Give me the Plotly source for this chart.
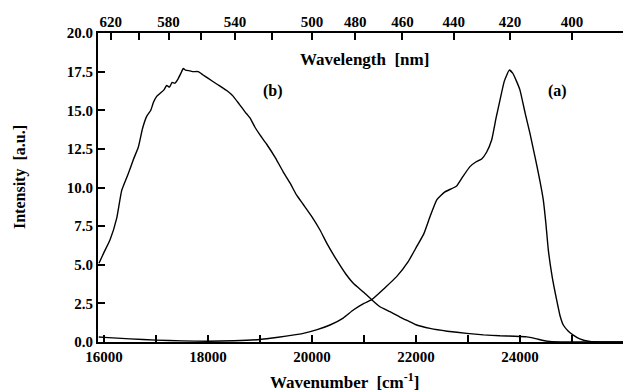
import plotly.graph_objects as go

# Curve (a)
wn_a = [15900, 16000, 16500, 17000, 17500, 18000, 18500, 19000, 19200, 19500, 19833, 20100,
        20346, 20600, 20794, 21000, 21148, 21400, 21628, 21850, 22013, 22150, 22269, 22400,
        22550, 22782, 22900, 23038, 23150, 23263, 23360, 23455, 23540, 23615, 23700, 23794,
        23860, 23930, 24000, 24100, 24192, 24300, 24385, 24448, 24500, 24545, 24620, 24705,
        24770, 24833, 24930, 25025, 25150, 25346, 25600, 26000]
int_a = [0.32, 0.30, 0.20, 0.12, 0.07, 0.05, 0.08, 0.16, 0.24, 0.38, 0.56, 0.80,
         1.10, 1.55, 2.07, 2.50, 2.74, 3.50, 4.23, 5.20, 6.17, 7.00, 8.11, 9.20,
         9.70, 10.10, 10.70, 11.35, 11.65, 11.85, 12.30, 13.07, 14.50, 15.66, 16.90, 17.60,
         17.40, 16.90, 16.30, 14.80, 13.50, 11.80, 10.40, 9.20, 7.60, 5.95, 4.20, 2.72,
         1.70, 1.10, 0.70, 0.45, 0.20, 0.03, 0.0, 0.0]

# Curve (b)
wn_b = [15904, 16000, 16115, 16244, 16340, 16468, 16564, 16660, 16740, 16821, 16900, 16950,
        17013, 17080, 17150, 17206, 17260, 17310, 17365, 17420, 17480, 17525, 17570, 17650,
        17720, 17813, 17900, 18006, 18167, 18391, 18487, 18600, 18712, 18808, 18904, 19000,
        19129, 19300, 19448, 19577, 19705, 19833, 20000, 20154, 20300, 20474, 20650, 20794,
        21000, 21148, 21300, 21500, 21700, 21885, 22013, 22269, 22600, 22975, 23300, 23615,
        23900, 24128, 24300, 24450, 24577, 24800, 26000]
int_b = [5.1, 5.8, 6.6, 8.0, 9.8, 10.9, 11.8, 12.6, 13.8, 14.6, 15.0, 15.5,
         15.9, 16.1, 16.3, 16.6, 16.5, 16.8, 16.75, 17.0, 17.4, 17.7, 17.6, 17.55,
         17.5, 17.5, 17.3, 17.06, 16.7, 16.2, 15.9, 15.4, 14.9, 14.5, 13.9, 13.4,
         12.8, 11.9, 11.0, 10.3, 9.5, 8.9, 8.1, 7.25, 6.3, 5.31, 4.4, 3.8,
         3.2, 2.74, 2.3, 1.96, 1.6, 1.31, 1.1, 0.88, 0.7, 0.56, 0.46, 0.40,
         0.37, 0.33, 0.22, 0.10, 0.03, 0.0, 0.0]

x_range = [15885, 25981]
y_range = [0, 20]

bottom_major = [16000, 18000, 20000, 22000, 24000]
bottom_minor = [17000, 19000, 21000, 23000, 25000]

top_major_nm = [620, 580, 540, 500, 480, 460, 440, 420, 400]
top_minor_nm = [600, 560, 520]

y_ticks = [0, 2.5, 5, 7.5, 10, 12.5, 15, 17.5, 20]

FONT = "Liberation Serif, Times New Roman, serif"
line = dict(color="black", width=1.4, shape="spline", smoothing=0.4)

fig = go.Figure()
fig.add_trace(go.Scatter(x=wn_a, y=int_a, mode="lines", line=line, showlegend=False))
fig.add_trace(go.Scatter(x=wn_b, y=int_b, mode="lines", line=line, showlegend=False))
fig.add_trace(go.Scatter(x=[1e7 / v for v in top_major_nm], y=[None] * len(top_major_nm),
                         xaxis="x2", mode="lines", showlegend=False, hoverinfo="skip"))

tickfont = dict(family=FONT, size=15, color="black", weight="bold")
minor_style = dict(ticks="inside", ticklen=7, tickwidth=1.5, tickcolor="black")
title_font = dict(family=FONT, size=17, color="black", weight="bold")

fig.update_layout(
    width=623, height=391,
    margin=dict(l=98, r=0, t=33, b=49),
    paper_bgcolor="white", plot_bgcolor="white",
    xaxis=dict(range=x_range, tickvals=bottom_major,
               ticktext=[str(v) for v in bottom_major], automargin=False,
               minor=dict(tickvals=bottom_minor, **minor_style),
               ticks="inside", ticklen=7, tickwidth=1.5, tickcolor="black",
               showline=True, linecolor="black", linewidth=2, showgrid=False, zeroline=False,
               tickfont=tickfont),
    xaxis2=dict(range=x_range, overlaying="x", side="top", anchor="y", automargin=False,
                tickvals=[1e7 / v for v in top_major_nm],
                ticktext=[str(v) for v in top_major_nm],
                minor=dict(tickvals=[1e7 / v for v in top_minor_nm], **minor_style),
                ticks="inside", ticklen=7, tickwidth=1.5, tickcolor="black",
                showline=True, linecolor="black", linewidth=2, showgrid=False, zeroline=False,
                tickfont=tickfont, ticklabelstandoff=-2),
    yaxis=dict(range=y_range, tickvals=y_ticks, tickformat=".1f", automargin=False,
               ticks="inside", ticklen=7, tickwidth=1.5, tickcolor="black",
               showline=True, linecolor="black", linewidth=2, showgrid=False, zeroline=False,
               tickfont=tickfont),
    annotations=[
        dict(text="Wavelength  [nm]", x=364, y=60, font=title_font),
        dict(text="Wavenumber  [cm<sup>-1</sup>]", x=344, y=381, font=title_font),
        dict(text="Intensity  [a.u.]", x=20, y=177, textangle=-90,
             font=dict(family=FONT, size=16, color="black", weight="bold")),
        dict(text="(b)", x=273, y=91,
             font=dict(family=FONT, size=16, color="black", weight="bold")),
        dict(text="(a)", x=557, y=91,
             font=dict(family=FONT, size=16, color="black", weight="bold")),
    ],
)

# convert pixel positions of annotations to paper coordinates
for ann in fig.layout.annotations:
    ann.x = (ann.x - 98) / 525
    ann.y = (342 - ann.y) / 309
    ann.xref = "paper"
    ann.yref = "paper"
    ann.xanchor = "center"
    ann.yanchor = "middle"
    ann.showarrow = False

fig.write_html("out.html", post_script="document.body.style.margin='0';",
               config={"displayModeBar": False})
